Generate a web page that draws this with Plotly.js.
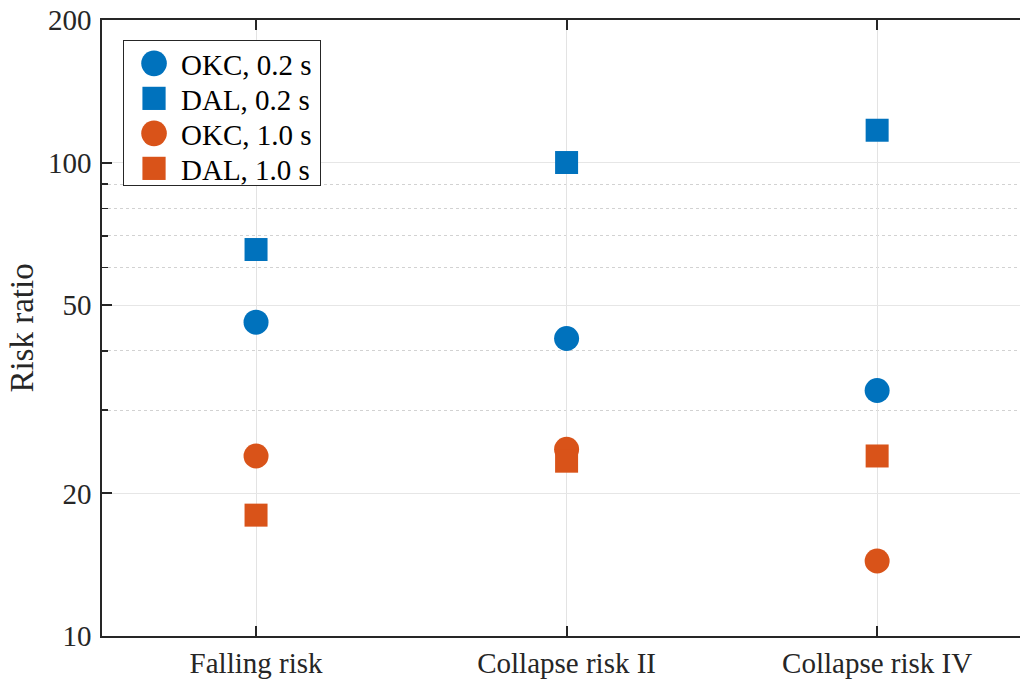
<!DOCTYPE html>
<html>
<head>
<meta charset="utf-8">
<script src="https://cdn.plot.ly/plotly-3.0.1.min.js"></script>
<style>html,body{margin:0;padding:0;background:#fff;}#chart{width:1020px;height:681px;}</style>
</head>
<body>
<div id="chart"></div>
<script>
const categories = ['Falling risk', 'Collapse risk II', 'Collapse risk IV'];
const okc02 = [46, 42.5, 33];
const dal02 = [65.5, 100, 117];
const okc10 = [24, 24.8, 14.4];
const dal10 = [18, 23.4, 24];
const seriesNames = ['OKC, 0.2 s', 'DAL, 0.2 s', 'OKC, 1.0 s', 'DAL, 1.0 s'];
const yTickVals = [10, 20, 50, 100, 200];
const yMinorVals = [30, 40, 60, 70, 80, 90];

const blue = '#0072BD', orange = '#D95319';
function tr(name, y, color, symbol, size) {
  return {
    type: 'scatter', mode: 'markers', name: name, x: categories, y: y,
    marker: {color: color, symbol: symbol, size: size, line: {width: 0}},
    cliponaxis: false
  };
}
const data = [
  tr(seriesNames[0], okc02, blue, 'circle', 25),
  tr(seriesNames[1], dal02, blue, 'square', 23),
  tr(seriesNames[2], okc10, orange, 'circle', 25),
  tr(seriesNames[3], dal10, orange, 'square', 23)
];
const axisColor = '#262626';
const font = {family: '"Liberation Serif", "Times New Roman", serif', size: 29, color: axisColor};
const layout = {
  width: 1020, height: 681,
  margin: {l: 102, r: 0, t: 20, b: 45},
  paper_bgcolor: '#fff', plot_bgcolor: '#fff',
  font: font,
  showlegend: true,
  legend: {
    x: 0.0229, y: 0.9675, xanchor: 'left', yanchor: 'top',
    bgcolor: '#fff', bordercolor: axisColor, borderwidth: 1,
    font: {family: font.family, size: 29, color: '#000'},
    tracegroupgap: 0
  },
  xaxis: {
    type: 'category', range: [-0.496, 2.46],
    showline: true, linecolor: axisColor, linewidth: 1.8, mirror: 'ticks',
    ticks: 'inside', ticklen: 10, tickwidth: 2, tickcolor: axisColor,
    showgrid: true, gridcolor: '#e3e3e3', gridwidth: 1,
    zeroline: false, tickfont: {size: 29}
  },
  yaxis: {
    type: 'log', range: [1, Math.log10(200)],
    tickmode: 'array', tickvals: yTickVals, ticktext: yTickVals.map(String),
    showline: true, linecolor: axisColor, linewidth: 1.8, mirror: false,
    ticks: 'inside', ticklen: 10, tickwidth: 2, tickcolor: axisColor,
    showgrid: true, gridcolor: '#e6e6e6', gridwidth: 1,
    zeroline: false, tickfont: {size: 29},
    ticklabelstandoff: 3,
    minor: {tickmode: 'array', tickvals: yMinorVals, ticks: 'inside', ticklen: 6, tickwidth: 1.5, tickcolor: axisColor,
            showgrid: true, gridcolor: '#d2d2d2', griddash: 'dot', gridwidth: 1},
    title: {text: 'Risk ratio', font: {size: 33}, standoff: 18}
  }
};
Plotly.newPlot('chart', data, layout, {staticPlot: true}).then(function () {
  const yt = document.querySelector('.g-ytitle');
  if (yt) {
    const old = yt.getAttribute('transform') || '';
    yt.setAttribute('transform', 'translate(4,0) ' + old);
  }
  const legend = document.querySelector('.legend');
  if (!legend) return;
  legend.querySelectorAll('[clip-path]').forEach(function (el) { el.removeAttribute('clip-path'); });
  const groups = legend.querySelectorAll('.traces');
  const parse = function (t) {
    const m = /translate\(\s*([-\d.]+)[ ,]+([-\d.]+)\s*\)/.exec(t || '');
    return m ? [parseFloat(m[1]), parseFloat(m[2])] : [0, 0];
  };
  let base = null;
  groups.forEach(function (g, i) {
    const xy = parse(g.getAttribute('transform'));
    if (base === null) base = xy;
    g.setAttribute('transform', 'translate(' + (base[0] + 10) + ',' + (base[1] - 3 + i * 35) + ')');
    const pts = g.querySelectorAll('.legendpoints path.scatterpts');
    pts.forEach(function (p) {
      const d = p.getAttribute('d') || '';
      const isSquare = /H/.test(d) && !/A/.test(d);
      const t = p.getAttribute('transform') || '';
      p.setAttribute('transform', t + ' scale(' + (isSquare ? 1.45 : 1.6) + ')');
    });
    const txt = g.querySelector('.legendtext');
    if (txt) txt.setAttribute('x', parseFloat(txt.getAttribute('x') || '40') + 7);
  });
  const bg = legend.querySelector('rect.bg');
  if (bg) { bg.setAttribute('width', 197); bg.setAttribute('height', 145); }
});
</script>
</body>
</html>
